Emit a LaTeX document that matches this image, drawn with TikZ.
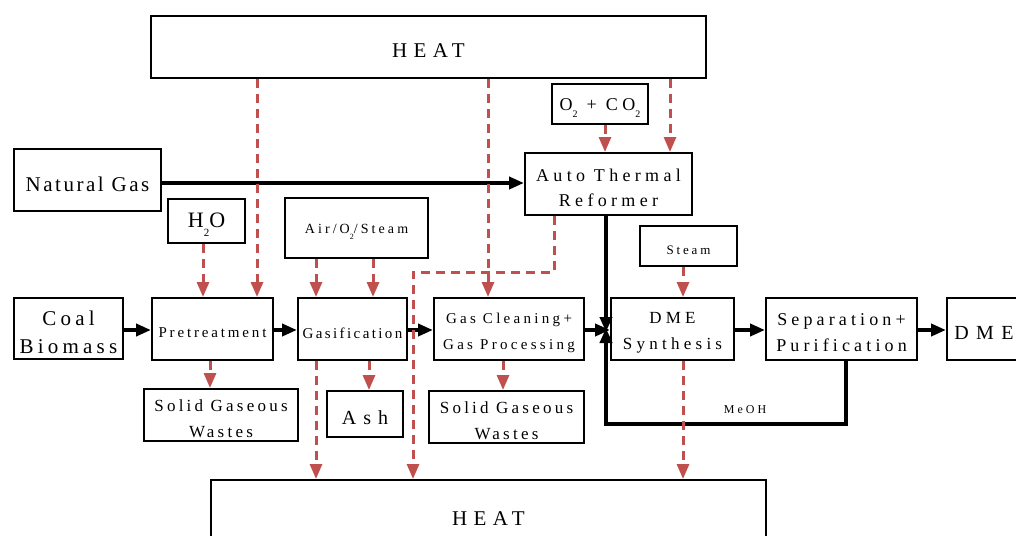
\documentclass[tikz,border=0pt]{standalone}
\usepackage{fontspec}
\setmainfont{Liberation Serif}
\usetikzlibrary{arrows.meta,calc}
\definecolor{rd}{HTML}{C0504D}
\newcommand\Tf[3]{\fontsize{#1}{#2}\selectfont\addfontfeatures{LetterSpace=#3}}
\newcommand\sbs[2]{\raisebox{-0.4em}{\fontsize{#1}{#1}\selectfont #2}}
\newcommand\bx[7]{%
  \node[box, minimum width=#4, minimum height=#5] (#1) at (#2,#3) {};
  \node[txt, font=#6] (#1-t) at ([yshift=-4pt]#1.center) {#7};}
\begin{document}
\begin{tikzpicture}[x=1pt,y=-1pt,
  box/.style={draw, line width=2pt, inner sep=0pt, anchor=north west},
  txt/.style={inner sep=0pt, align=center},
  blk/.style={line width=4pt, -{Triangle[length=15pt,width=12pt]}},
  rdd/.style={draw=rd, line width=3pt, dash pattern=on 9pt off 6pt, -{Triangle[length=15pt,width=12pt,fill=rd]}}]
\useasboundingbox (0,0) rectangle (1016,535);
% boxes
\bx{heat1}{150}{15}{555}{62}{\Tf{21}{25}{30}}{HEAT}
\bx{o2}{551}{83}{96}{40}{\Tf{18}{22}{25}}{O\sbs{10}{2} + CO\sbs{10}{2}}
\bx{ng}{13}{148}{147}{62}{\Tf{21}{25}{12}}{Natural Gas}
\bx{atr}{524}{152}{167}{62}{\Tf{18}{25}{24}}{Auto Thermal\\Reformer}
\bx{h2o}{167}{198}{77}{44}{\Tf{22}{26}{20}}{H\sbs{11}{2}O}
\bx{air}{284}{197}{143}{60}{\Tf{14}{18}{22}}{Air/O\sbs{8}{2}/Steam}
\bx{steam}{639}{225}{97}{40}{\Tf{13}{16}{22}}{Steam}
\bx{coal}{13}{297}{109}{61}{\Tf{21}{28}{20}}{Coal\\Biomass}
\bx{pre}{151}{297}{121}{62}{\Tf{15}{20}{19}}{Pretreatment}
\bx{gas}{297}{297}{109}{62}{\Tf{15}{20}{16}}{Gasification}
\bx{gc}{433}{297}{150}{62}{\Tf{15}{26}{22}}{Gas Cleaning+\\Gas Processing}
\bx{dme}{610}{297}{123}{62}{\Tf{17}{26}{25}}{DME\\Synthesis}
\bx{sep}{765}{297}{151}{62}{\Tf{18}{26}{23}}{Separation+\\Purification}
\bx{out}{946}{297}{74}{62}{\Tf{20}{24}{37}}{DME}
\bx{sgw1}{143}{388}{154}{52}{\Tf{17}{26}{19}}{Solid Gaseous\\Wastes}
\bx{ash}{326}{390}{76}{46}{\Tf{20}{24}{35}}{Ash}
\bx{sgw2}{428}{390}{155}{52}{\Tf{17}{26}{19}}{Solid Gaseous\\Wastes}
\bx{heat2}{210}{479}{555}{70}{\Tf{21}{25}{30}}{HEAT}
% junction and loop corners
\coordinate (j) at (606,330);
\coordinate (l1) at (846,424);
\coordinate (l2) at (606,424);
\coordinate (r1) at (554,272);
\coordinate (r2) at (413,272);
% black flow
\draw[blk] (ng.east |- 0,183) -- (atr.west |- 0,183);
\draw[blk] (coal.east |- 0,330) -- (pre.west |- 0,330);
\draw[blk] (pre.east |- 0,330) -- (gas.west |- 0,330);
\draw[blk] (gas.east |- 0,330) -- (gc.west |- 0,330);
\draw[blk] (gc.east |- j) -- (dme.west |- j);
\draw[blk] (dme.east |- 0,330) -- (sep.west |- 0,330);
\draw[blk] (sep.east |- 0,330) -- (out.west |- 0,330);
\draw[blk] (atr.south -| j) -- ([yshift=-2pt]j);
\draw[blk] (sep.south -| l1) -- (l1) -- (l2) -- ([yshift=2pt]j);
\node[font=\Tf{12}{14}{25}] (meoh) at (745,410) {MeOH};
% red dashed
\draw[rdd] (heat1.south -| 257,0) -- (pre.north -| 257,0);
\draw[rdd] (h2o.south -| 203,0) -- (pre.north -| 203,0);
\draw[rdd] (air.south -| 316,0) -- (gas.north -| 316,0);
\draw[rdd] (air.south -| 373,0) -- (gas.north -| 373,0);
\draw[rdd] (heat1.south -| 488,0) -- (gc.north -| 488,0);
\draw[rdd] (o2.south -| 605,0) -- (atr.north -| 605,0);
\draw[rdd] (heat1.south -| 670,0) -- (atr.north -| 670,0);
\draw[rdd] (steam.south -| 683,0) -- (dme.north -| 683,0);
\draw[rdd] (pre.south -| 210,0) -- (sgw1.north -| 210,0);
\draw[rdd] (gas.south -| 369,0) -- (ash.north -| 369,0);
\draw[rdd] (gc.south -| 503,0) -- (sgw2.north -| 503,0);
\draw[rdd] (gas.south -| 316,0) -- (heat2.north -| 316,0);
\draw[rdd] (atr.south -| r1) -- (r1) -- (r2) -- (heat2.north -| r2);
\draw[rdd] (dme.south -| 683,0) -- (heat2.north -| 683,0);
\end{tikzpicture}
\end{document}
